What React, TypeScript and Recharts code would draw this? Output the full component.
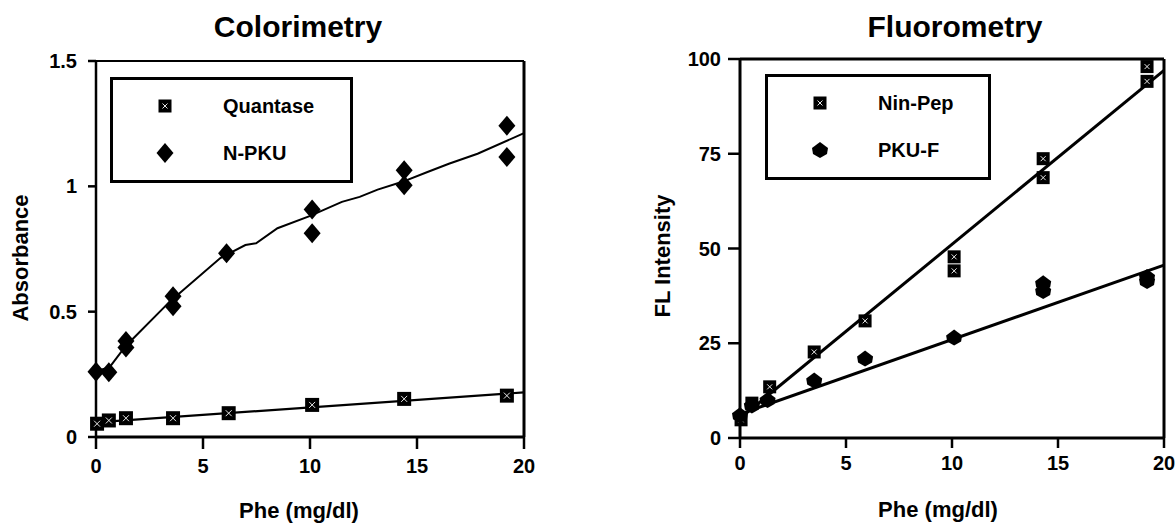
import React from 'react';
import {
  ComposedChart, Scatter, Line, XAxis, YAxis, ReferenceLine, Legend,
} from 'recharts';

const FONT = '"Liberation Sans", Arial, Helvetica, sans-serif';

// Colorimetry (Absorbance vs Phe)
const quantase = [
  { x: 0.05, y: 0.053 }, { x: 0.6, y: 0.066 }, { x: 1.4, y: 0.075 }, { x: 3.6, y: 0.075 },
  { x: 6.2, y: 0.095 }, { x: 10.1, y: 0.128 }, { x: 14.4, y: 0.152 }, { x: 19.2, y: 0.165 },
];
const nPku = [
  { x: 0, y: 0.26 }, { x: 0.6, y: 0.258 }, { x: 1.4, y: 0.383 }, { x: 1.4, y: 0.357 },
  { x: 3.6, y: 0.562 }, { x: 3.6, y: 0.522 }, { x: 6.1, y: 0.733 }, { x: 10.1, y: 0.908 },
  { x: 10.1, y: 0.813 }, { x: 14.4, y: 1.064 }, { x: 14.4, y: 1.004 }, { x: 19.2, y: 1.242 },
  { x: 19.2, y: 1.117 },
];
const quantaseFit = [{ x: 0, y: 0.058 }, { x: 20, y: 0.178 }];
const nPkuFit = [
  { x: 0, y: 0.262 }, { x: 0.63, y: 0.278 }, { x: 1.39, y: 0.363 }, { x: 3.47, y: 0.542 },
  { x: 5.81, y: 0.714 }, { x: 6.98, y: 0.766 }, { x: 7.48, y: 0.773 }, { x: 8.48, y: 0.833 },
  { x: 9.98, y: 0.881 }, { x: 11.49, y: 0.938 }, { x: 12.32, y: 0.958 }, { x: 13.16, y: 0.987 },
  { x: 14.32, y: 1.018 }, { x: 15.49, y: 1.057 }, { x: 16.49, y: 1.09 }, { x: 17.83, y: 1.13 },
  { x: 20, y: 1.212 },
];
const colorTicksY = [0, 0.5, 1, 1.5];

// Fluorometry (FL intensity vs Phe)
const ninPep = [
  { x: 0.05, y: 4.8 }, { x: 0.56, y: 9.2 }, { x: 1.4, y: 13.5 }, { x: 3.5, y: 22.7 },
  { x: 5.9, y: 30.9 }, { x: 10.1, y: 47.8 }, { x: 10.1, y: 44.1 }, { x: 14.3, y: 73.7 },
  { x: 14.3, y: 68.7 }, { x: 19.2, y: 98 }, { x: 19.2, y: 94.1 },
];
const pkuF = [
  { x: 0, y: 6 }, { x: 0.56, y: 8.6 }, { x: 1.3, y: 10 }, { x: 3.5, y: 15.2 },
  { x: 5.9, y: 21 }, { x: 10.1, y: 26.5 }, { x: 14.3, y: 40.8 }, { x: 14.3, y: 38.8 },
  { x: 19.2, y: 42.5 }, { x: 19.2, y: 41.4 },
];
const ninPepFit = [{ x: 0, y: 5.2 }, { x: 20, y: 97 }];
const pkuFFit = [{ x: 0, y: 6.3 }, { x: 20, y: 45.6 }];
const fluoTicksY = [0, 25, 50, 75, 100];

const phTicksX = [0, 5, 10, 15, 20];
const legendOrder = ['Quantase', 'N-PKU', 'Nin-Pep', 'PKU-F'];

function BoxX({ cx, cy, size = 14 }: { cx: number; cy: number; size?: number }) {
  const h = size / 2;
  const i = 4;
  return (
    <g>
      <rect x={cx - h} y={cy - h} width={size} height={size} fill="#000" />
      <path
        d={`M${cx - h + i},${cy - h + i}L${cx + h - i},${cy + h - i}M${cx + h - i},${cy - h + i}L${cx - h + i},${cy + h - i}`}
        stroke="#fff"
        strokeWidth={0.9}
      />
    </g>
  );
}

function Diamond({ cx, cy }: { cx: number; cy: number }) {
  return <polygon points={`${cx},${cy - 10} ${cx + 8.5},${cy} ${cx},${cy + 10} ${cx - 8.5},${cy}`} fill="#000" />;
}

function Blob({ cx, cy }: { cx: number; cy: number }) {
  return (
    <path
      d={`M${cx},${cy - 8} L${cx + 8},${cy - 2} L${cx + 7},${cy + 4} L${cx},${cy + 8} L${cx - 7},${cy + 4} L${cx - 8},${cy - 2} Z`}
      fill="#000"
    />
  );
}

const markers: Record<string, (cx: number, cy: number) => React.ReactElement> = {
  Quantase: (cx, cy) => <BoxX cx={cx} cy={cy} size={13} />,
  'N-PKU': (cx, cy) => <Diamond cx={cx} cy={cy} />,
  'Nin-Pep': (cx, cy) => <BoxX cx={cx} cy={cy} size={13} />,
  'PKU-F': (cx, cy) => <Blob cx={cx} cy={cy} />,
};

function LegendBox(props: any) {
  const items = (props.payload || [])
    .filter((p: any) => markers[p.value])
    .sort((a: any, b: any) => legendOrder.indexOf(a.value) - legendOrder.indexOf(b.value));
  return (
    <div
      style={{
        boxSizing: 'border-box', width: '100%', height: '100%', border: '3px solid #000',
        background: '#fff', position: 'relative', fontFamily: FONT, fontWeight: 'bold', fontSize: 20,
      }}
    >
      {items.map((p: any, k: number) => (
        <div key={p.value} style={{ position: 'absolute', left: 0, top: 26 + k * 47 - 14, height: 28, width: '100%' }}>
          <svg width={30} height={28} style={{ position: 'absolute', left: 37, top: 0 }}>
            {markers[p.value](15, 14)}
          </svg>
          <span style={{ position: 'absolute', left: 110, top: 14, transform: 'translateY(-50%)', lineHeight: 1 }}>
            {p.value}
          </span>
        </div>
      ))}
    </div>
  );
}

const tickStyle = { fill: '#000', fontSize: 20, fontWeight: 'bold', fontFamily: FONT };
const axisLine = { stroke: '#000', strokeWidth: 3 };
const tickLine = { stroke: '#000', strokeWidth: 2.5 };

const textStyle: React.CSSProperties = {
  position: 'absolute', fontFamily: FONT, fontWeight: 'bold', whiteSpace: 'nowrap',
  transform: 'translate(-50%, -50%)', lineHeight: 1, color: '#000',
};

export default function App() {
  return (
    <div style={{ position: 'absolute', left: 0, top: 0, width: 1175, height: 524, background: '#fff', overflow: 'hidden' }}>
      <div style={{ position: 'absolute', left: 0, top: 0 }}>
        <ComposedChart width={560} height={524} margin={{ top: 61, right: 0, bottom: 0, left: 16 }}>
          <XAxis
            type="number" dataKey="x" domain={[0, 20]} ticks={phTicksX} height={87}
            tick={tickStyle} tickSize={12} tickMargin={10} axisLine={axisLine} tickLine={tickLine}
          />
          <YAxis
            type="number" dataKey="y" domain={[0, 1.5]} ticks={colorTicksY} width={80}
            tick={tickStyle} tickSize={8} tickMargin={11} axisLine={{ stroke: '#000', strokeWidth: 2.5 }} tickLine={tickLine}
          />
          <YAxis
            yAxisId="r" orientation="right" type="number" domain={[0, 1.5]} ticks={colorTicksY} width={36}
            tick={false} tickSize={10} axisLine={axisLine} tickLine={tickLine}
          />
          <ReferenceLine y={1.5} stroke="#000" strokeWidth={2} />
          <Line data={quantaseFit} dataKey="y" type="linear" stroke="#000" strokeWidth={2.2} dot={false} legendType="none" isAnimationActive={false} />
          <Line data={nPkuFit} dataKey="y" type="linear" stroke="#000" strokeWidth={2} dot={false} legendType="none" isAnimationActive={false} />
          <Scatter name="Quantase" data={quantase} shape={(p: any) => <BoxX cx={p.cx} cy={p.cy} />} isAnimationActive={false} />
          <Scatter name="N-PKU" data={nPku} shape={(p: any) => <Diamond cx={p.cx} cy={p.cy} />} isAnimationActive={false} />
          <Legend
            layout="horizontal" verticalAlign="middle" align="center"
            content={<LegendBox />}
            wrapperStyle={{ left: 110, top: 77, width: 243, height: 106 }}
          />
        </ComposedChart>
      </div>

      <div style={{ position: 'absolute', left: 590, top: 0 }}>
        <ComposedChart width={585} height={524} margin={{ top: 59, right: 0, bottom: 0, left: 70 }}>
          <XAxis
            type="number" dataKey="x" domain={[0, 20]} ticks={phTicksX} height={86}
            tick={tickStyle} tickSize={10} tickMargin={8} axisLine={axisLine} tickLine={tickLine}
          />
          <YAxis
            type="number" dataKey="y" domain={[0, 100]} ticks={fluoTicksY} width={80}
            tick={tickStyle} tickSize={12} tickMargin={7} axisLine={axisLine} tickLine={tickLine}
          />
          <YAxis
            yAxisId="r" orientation="right" type="number" domain={[0, 100]} ticks={fluoTicksY} width={11}
            tick={false} tickSize={11} axisLine={axisLine} tickLine={tickLine}
          />
          <ReferenceLine y={100} stroke="#000" strokeWidth={3} />
          <Line data={ninPepFit} dataKey="y" type="linear" stroke="#000" strokeWidth={3} dot={false} legendType="none" isAnimationActive={false} />
          <Line data={pkuFFit} dataKey="y" type="linear" stroke="#000" strokeWidth={3} dot={false} legendType="none" isAnimationActive={false} />
          <Scatter name="Nin-Pep" data={ninPep} shape={(p: any) => <BoxX cx={p.cx} cy={p.cy} size={13} />} isAnimationActive={false} />
          <Scatter name="PKU-F" data={pkuF} shape={(p: any) => <Blob cx={p.cx} cy={p.cy} />} isAnimationActive={false} />
          <Legend
            layout="horizontal" verticalAlign="middle" align="center"
            content={<LegendBox />}
            wrapperStyle={{ left: 175, top: 74, width: 226, height: 106 }}
          />
        </ComposedChart>
      </div>

      <div style={{ ...textStyle, left: 298, top: 27, fontSize: 30 }}>Colorimetry</div>
      <div style={{ ...textStyle, left: 955, top: 27, fontSize: 30 }}>Fluorometry</div>
      <div style={{ ...textStyle, left: 21, top: 258, fontSize: 22, transform: 'translate(-50%, -50%) rotate(-90deg)' }}>Absorbance</div>
      <div style={{ ...textStyle, left: 663, top: 256, fontSize: 22, transform: 'translate(-50%, -50%) rotate(-90deg)' }}>FL Intensity</div>
      <div style={{ ...textStyle, left: 299, top: 511, fontSize: 22 }}>Phe (mg/dl)</div>
      <div style={{ ...textStyle, left: 938, top: 510, fontSize: 22 }}>Phe (mg/dl)</div>
    </div>
  );
}
